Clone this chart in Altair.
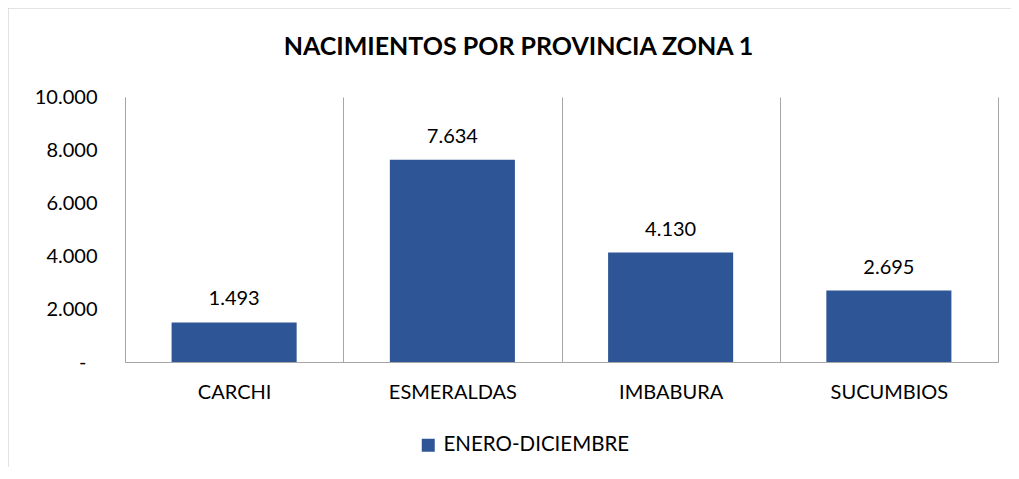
import altair as alt
import pandas as pd

provincias = ["CARCHI", "ESMERALDAS", "IMBABURA", "SUCUMBIOS"]
nacimientos = [1493, 7634, 4130, 2695]
serie = "ENERO-DICIEMBRE"
titulo = "NACIMIENTOS POR PROVINCIA ZONA 1"
y_ticks = [0, 2000, 4000, 6000, 8000, 10000]

df = pd.DataFrame({"provincia": provincias, "valor": nacimientos, "serie": [serie] * len(provincias)})

FONT = "Lato"
GRID = "#a6a6a6"
BAR = "#2E5596"

base = alt.Chart(df).transform_calculate(
    etiqueta="replace(format(datum.valor, ','), ',', '.')"
)

x_enc = alt.X(
    "provincia:N",
    sort=provincias,
    title=None,
    scale=alt.Scale(paddingInner=0, paddingOuter=0),
    axis=alt.Axis(
        labelAngle=0,
        labelFont=FONT,
        labelFontSize=20,
        labelColor="#000000",
        labelPadding=20,
        ticks=False,
        grid=True,
        gridColor=GRID,
        gridWidth=1,
        tickBand="extent",
        domainColor=GRID,
        domainWidth=1,
    ),
)

y_enc = alt.Y(
    "valor:Q",
    title=None,
    scale=alt.Scale(domain=[0, 10000], nice=False),
    axis=alt.Axis(
        values=y_ticks,
        labelExpr="datum.value == 0 ? '-' : replace(format(datum.value, ','), ',', '.')",
        labelFont=FONT,
        labelFontSize=20,
        labelColor="#000000",
        labelPadding={"condition": {"test": "datum.value == 0", "value": 39}, "value": 28},
        ticks=False,
        grid=False,
        domainColor=GRID,
        domainWidth=1,
    ),
)

bars = base.mark_bar(width=alt.RelativeBandSize(0.573)).encode(
    x=x_enc,
    y=y_enc,
    color=alt.Color(
        "serie:N",
        scale=alt.Scale(range=[BAR]),
        legend=alt.Legend(
            title=None,
            orient="none",
            legendX=293,
            legendY=338,
            symbolType="square",
            symbolSize=169,
            labelFont=FONT,
            labelFontSize=20.5,
            labelColor="#000000",
            labelOffset=5,
            labelLimit=400,
        ),
    ),
)

labels = base.mark_text(
    baseline="alphabetic", dy=-17, font=FONT, fontSize=20, color="#000000"
).encode(
    x=alt.X("provincia:N", sort=provincias),
    y="valor:Q",
    text="etiqueta:N",
)

border_df = pd.DataFrame({"k": [0]})
border = alt.Chart(border_df).mark_rect(
    fillOpacity=0, stroke="#c8c8c8", strokeWidth=1
).encode(
    x=alt.value(-117), x2=alt.value(1100), y=alt.value(-89), y2=alt.value(600)
)

chart = alt.layer(border, bars, labels).properties(
    width=873,
    height=265,
    autosize="none",
    padding={"left": 117, "top": 89, "right": 13, "bottom": 105},
    title=alt.TitleParams(
        titulo,
        font=FONT,
        fontSize=25,
        fontWeight="bold",
        color="#000000",
        anchor="middle",
        dx=-43,
        offset=-52,
    ),
).configure_view(stroke=None)

chart.save("out.html", embed_options={"renderer": "svg", "actions": False})
